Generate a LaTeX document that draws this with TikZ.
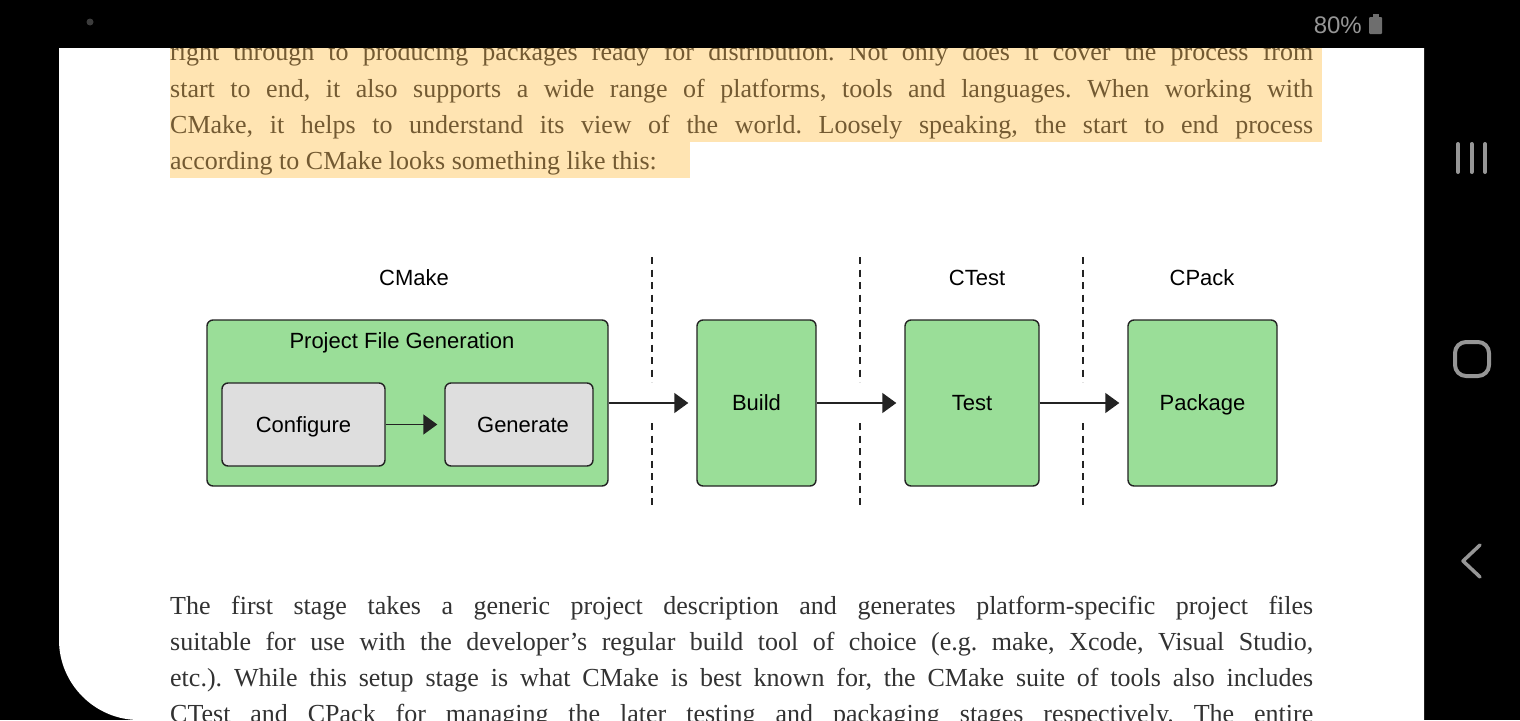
\documentclass[tikz,border=0pt]{standalone}
\usepackage{fontspec}
\setmainfont{Liberation Serif}
\newfontfamily\uisans{Liberation Sans}
\usetikzlibrary{arrows.meta,positioning}
\definecolor{stagegreen}{RGB}{154,222,152}
\definecolor{stepgrey}{RGB}{222,222,222}
\definecolor{hilite}{RGB}{255,228,178}
\definecolor{hilitetext}{RGB}{115,90,50}
\definecolor{bodytext}{RGB}{50,50,50}
\definecolor{navgrey}{RGB}{150,150,150}
\definecolor{battgrey}{RGB}{110,110,110}
\definecolor{dotgrey}{RGB}{60,60,60}
\definecolor{edgegrey}{RGB}{35,35,35}
\newcommand{\jline}[1]{\makebox[1143pt][s]{#1}}
\frenchspacing

\begin{document}
\begin{tikzpicture}[x=1pt,y=-1pt,
  stage/.style={draw=edgegrey,line width=1.4pt,fill=stagegreen,rounded corners=6pt,
    minimum height=166pt,inner sep=0pt,text height=15.8pt,text depth=0pt,
    font=\uisans\fontsize{22}{26}\selectfont},
  substep/.style={draw=edgegrey,line width=1.4pt,fill=stepgrey,rounded corners=6pt,
    minimum height=83pt,inner sep=0pt,text height=15.8pt,text depth=0pt,
    font=\uisans\fontsize{22}{26}\selectfont},
  toollabel/.style={inner sep=0pt,text height=15.8pt,text depth=0pt,
    font=\uisans\fontsize{22}{26}\selectfont},
  flow/.style={-{Triangle[length=14pt,width=20pt]},draw=edgegrey,line width=1.4pt,shorten >=8pt},
  divider/.style={draw=edgegrey,line width=1.3pt,dash pattern=on 7pt off 5.5pt},
  textline/.style={anchor=base west,inner sep=0pt,font=\fontsize{26}{30}\selectfont},
  navicon/.style={draw=navgrey,line width=4pt,line cap=round,line join=round}]
  \useasboundingbox (0,0) rectangle (1520,720);
  \clip (0,0) rectangle (1520,720);

  % screen and page
  \fill[black] (0,0) rectangle (1520,720);
  \fill[white] (59,48) -- (59,640) .. controls (59,684) and (95,720) .. (139,720)
    -- (1424,720) -- (1424,48) -- cycle;

  % highlighted paragraph
  \fill[hilite] (170,48) rectangle (1322,142);
  \fill[hilite] (170,142) rectangle (690,178);
  \node[textline,text=hilitetext] (intro1) at (170,60) {\jline{right through to producing packages ready for distribution. Not only does it cover the process from}};
  \node[textline,text=hilitetext] (intro2) at (170,97) {\jline{start to end, it also supports a wide range of platforms, tools and languages. When working with}};
  \node[textline,text=hilitetext] (intro3) at (170,133) {\jline{CMake, it helps to understand its view of the world. Loosely speaking, the start to end process}};
  \node[textline,text=hilitetext] (intro4) at (170,169) {according to CMake looks something like this:};

  % tool labels
  \node[toollabel] (cmakelbl) at (414,278) {CMake};
  \node[toollabel] (ctestlbl) at (977,278) {CTest};
  \node[toollabel] (cpacklbl) at (1202,278) {CPack};

  % stage separators
  \foreach \sx in {652,860,1083} {
    \draw[divider] (\sx,257) -- (\sx,382);
    \draw[divider] (\sx,423) -- (\sx,505);
  }

  % stages
  \node[stage,minimum width=401pt] (pfg) at (407.5,403) {};
  \node[toollabel] (pfgtitle) at (402,341) {Project File Generation};
  \node[substep,minimum width=163pt] (configure) at (303.5,424.5) {Configure};
  \node[substep,minimum width=148pt] (generate) at (519,424.5) {\hspace{8pt}Generate};
  \node[stage,minimum width=119pt] (build) at (756.5,403) {Build};
  \node[stage,minimum width=134pt] (test) at (972,403) {Test};
  \node[stage,minimum width=149pt] (package) at (1202.5,403) {Package};

  % flow
  \draw[flow,shorten >=7pt] (configure) -- (generate);
  \draw[flow] (pfg) -- (build);
  \draw[flow] (build) -- (test);
  \draw[flow] (test) -- (package);

  % following paragraph
  \node[textline,text=bodytext] (body1) at (170,614) {\jline{The first stage takes a generic project description and generates platform-specific project files}};
  \node[textline,text=bodytext] (body2) at (170,650) {\jline{suitable for use with the developer’s regular build tool of choice (e.g. make, Xcode, Visual Studio,}};
  \node[textline,text=bodytext] (body3) at (170,686) {\jline{etc.). While this setup stage is what CMake is best known for, the CMake suite of tools also includes}};
  \node[textline,text=bodytext] (body4) at (170,722) {\jline{CTest and CPack for managing the later testing and packaging stages respectively. The entire}};

  % status bar
  \fill[black] (0,0) rectangle (1520,48);
  \fill[dotgrey] (90,22) circle (3.5pt);
  \node[anchor=base east,inner sep=0pt,text=navgrey,font=\uisans\fontsize{24}{28}\selectfont] (battlevel) at (1362,33) {80\%};
  \fill[battgrey] (1372.5,14) rectangle (1378.5,17);
  \fill[battgrey,rounded corners=1pt] (1369,17) rectangle (1382,34);

  % navigation keys
  \foreach \bx in {1458,1471.5,1485} {
    \draw[navicon] (\bx,144) -- (\bx,172);
  }
  \draw[navicon,rounded corners=11pt] (1455,342) rectangle (1489,376);
  \draw[navicon,line width=3.5pt] (1480,545) -- (1463,561) -- (1480,577);
\end{tikzpicture}
\end{document}
